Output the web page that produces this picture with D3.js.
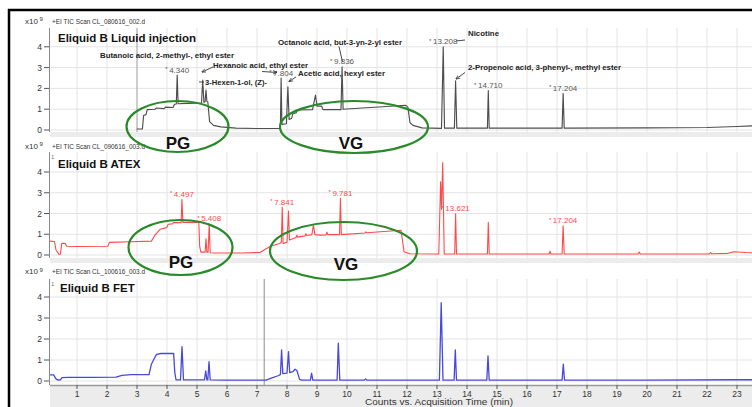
<!DOCTYPE html>
<html><head><meta charset="utf-8">
<script src="https://cdn.jsdelivr.net/npm/d3@7"></script>
<style>
body{margin:0;background:#fff}
svg{display:block}
text{font-family:"Liberation Sans",Arial,sans-serif}
</style>
</head><body>
<svg id="c" width="752" height="407"></svg>
<script>
// ---------------- DATA ----------------
const timeTicks = [1,2,3,4,5,6,7,8,9,10,11,12,13,14,15,16,17,18,19,20,21,22,23];
const countTicks = [0,1,2,3,4];
const panelTitles = ["Eliquid B Liquid injection","Eliquid B ATEX","Eliquid B FET"];
const scanNames = ["+EI TIC Scan CL_080616_002.d","+EI TIC Scan CL_090616_003.d","+EI TIC Scan CL_100616_003.d"];
const xAxisTitle = "Counts vs. Acquisition Time (min)";
const yExponent = "9";

// [time (min), counts (x10^9)]
const liquidTrace = [
 [2.99,0.05],[3.18,0.05],[3.22,0.7],[3.3,0.74],[3.34,0.98],[3.6,1.0],[3.65,1.06],[3.9,1.03],[3.95,1.1],[4.2,1.08],
 [4.25,1.24],[4.31,1.25],[4.34,2.64],[4.37,1.26],[4.7,1.28],[5.15,1.3],[5.19,2.4],[5.23,1.33],[5.27,1.36],[5.3,1.92],
 [5.33,1.37],[5.36,1.36],[5.42,0.4],[5.55,0.22],[5.8,0.15],[6.3,0.09],[7.0,0.07],[7.75,0.07],[7.78,0.2],[7.804,2.5],
 [7.83,0.27],[7.98,0.3],[8.03,2.08],[8.07,0.51],[8.15,0.55],[8.2,0.8],[8.3,0.82],[8.35,0.96],[8.85,0.98],[8.95,1.68],
 [9.0,1.15],[9.15,1.15],[9.2,0.98],[9.8,0.98],[9.836,3.04],[9.87,1.0],[10.5,1.06],[11.2,1.12],[11.95,1.19],[12.03,1.1],
 [12.1,0.35],[12.2,0.22],[12.5,0.1],[13.15,0.08],[13.208,4.0],[13.25,0.09],[13.58,0.09],[13.62,2.36],[13.66,0.09],
 [14.68,0.09],[14.71,1.89],[14.74,0.09],[17.17,0.09],[17.204,1.76],[17.24,0.09],[20.0,0.1],[22.0,0.12],[23.0,0.17],[23.6,0.2]
];
const atexTrace = [
 [0.1,0.67],[0.25,0.65],[0.3,0.24],[0.4,0.03],[0.45,0.05],[0.49,0.56],[0.6,0.56],[0.66,0.42],[1.0,0.41],[2.03,0.42],
 [2.08,0.61],[2.8,0.64],[3.48,0.67],[3.6,0.96],[3.77,1.24],[3.99,1.32],[4.04,1.48],[4.18,1.5],[4.22,1.56],[4.47,1.56],
 [4.497,2.68],[4.53,1.57],[5.06,1.58],[5.09,0.4],[5.13,0.14],[5.27,0.14],[5.3,0.78],[5.33,0.14],[5.37,0.14],[5.408,1.5],
 [5.44,0.11],[5.6,0.1],[6.5,0.1],[7.1,0.12],[7.25,0.25],[7.45,0.42],[7.75,0.55],[7.81,0.6],[7.841,2.3],[7.87,0.55],
 [8.0,0.62],[8.05,2.12],[8.08,0.72],[8.3,0.84],[8.33,0.95],[8.36,0.86],[8.6,0.92],[8.63,1.02],[8.66,0.94],[8.83,0.98],
 [8.88,1.45],[8.93,0.98],[9.1,0.96],[9.3,0.97],[9.33,1.1],[9.36,0.98],[9.75,0.98],[9.781,2.73],[9.81,0.98],[10.6,1.06],
 [10.63,1.12],[10.66,1.07],[11.8,1.19],[11.85,0.7],[11.9,0.16],[12.1,0.06],[13.06,0.05],[13.12,3.53],[13.15,2.2],[13.19,4.45],
 [13.24,0.05],[13.59,0.05],[13.621,2.0],[13.65,0.05],[14.68,0.05],[14.71,1.57],[14.74,0.05],[16.74,0.05],[16.77,0.19],[16.8,0.05],
 [17.17,0.05],[17.204,1.41],[17.24,0.05],[19.7,0.05],[19.74,0.14],[19.78,0.05],[22.08,0.05],[22.12,0.12],[22.16,0.06],[22.7,0.08],
 [22.9,0.16],[23.3,0.12],[23.6,0.1]
];
const fetTrace = [
 [0.1,0.29],[0.22,0.29],[0.3,0.1],[0.37,0.04],[0.45,0.06],[0.5,0.16],[0.7,0.17],[1.5,0.17],[2.3,0.18],[2.5,0.27],
 [2.8,0.3],[3.4,0.3],[3.48,0.8],[3.55,1.0],[3.65,1.27],[3.8,1.31],[4.22,1.32],[4.26,0.4],[4.3,0.06],[4.45,0.05],
 [4.5,1.63],[4.55,0.05],[5.25,0.05],[5.29,0.48],[5.33,0.05],[5.36,0.05],[5.4,0.92],[5.44,0.05],[6.0,0.04],[7.3,0.04],
 [7.5,0.15],[7.7,0.25],[7.78,0.3],[7.82,1.48],[7.86,0.35],[8.0,0.38],[8.05,1.4],[8.09,0.4],[8.2,0.45],[8.27,0.56],
 [8.33,0.5],[8.42,0.08],[8.5,0.04],[8.78,0.04],[8.82,0.37],[8.86,0.04],[9.67,0.04],[9.71,1.8],[9.76,0.04],[10.58,0.04],
 [10.62,0.1],[10.66,0.04],[13.08,0.04],[13.14,3.73],[13.2,0.04],[13.57,0.04],[13.61,1.48],[13.65,0.04],[14.66,0.04],[14.7,1.19],
 [14.74,0.04],[17.17,0.04],[17.21,0.8],[17.25,0.04],[20.0,0.04],[23.0,0.06],[23.6,0.06]
];

const liquidPeakLabels = [4.340, 7.804, 9.836, 13.208, 14.710, 17.204];
const atexPeakLabels = [4.497, 5.408, 7.841, 9.781, 13.621, 17.204];
const liquidCompounds = [
 "Butanoic acid, 2-methyl-, ethyl ester",
 "Hexanoic acid, ethyl ester",
 "3-Hexen-1-ol, (Z)-",
 "Acetic acid, hexyl ester",
 "Octanoic acid, but-3-yn-2-yl ester",
 "Nicotine",
 "2-Propenoic acid, 3-phenyl-, methyl ester"
];
const regionLabels = ["PG","VG","PG","VG"];
const cursorTimes = [3.0, null, 7.24];

// ---------------- LAYOUT ----------------
const W = 752, H = 407;
const svg = d3.select("#c");
const x = d3.scaleLinear().domain([0, 23.5]).range([47, 752]);
const plotLeft = 50;

const panels = [
 {top:28, bottom:132, zero:130, unit:20.8, head:23.5, band:5, trace:liquidTrace, color:"#4e4e4e", width:1.15},
 {top:152, bottom:258, zero:255, unit:20.75, head:148.5, band:5, trace:atexTrace, color:"#ff4a4a", width:1.1},
 {top:279, bottom:385, zero:381, unit:21, head:274, band:0, trace:fetTrace, color:"#4848da", width:1.3}
];
const titleLayout = [{x:58,y:42},{x:58,y:167.5},{x:60,y:292}];

svg.append("rect").attr("x",0).attr("y",0).attr("width",W).attr("height",H).attr("fill","#fff");

const defs = svg.append("defs");
defs.append("marker").attr("id","ah").attr("viewBox","0 0 10 10").attr("refX",9).attr("refY",5)
 .attr("markerWidth",5).attr("markerHeight",5).attr("orient","auto")
 .append("path").attr("d","M0,1 L10,5 L0,9").attr("fill","none").attr("stroke","#333").attr("stroke-width",1.6);

panels.forEach((p,i) => {
  p.y = d3.scaleLinear().domain([0,4]).range([p.zero, p.zero - 4*p.unit]);
  const g = svg.append("g");
  g.append("rect").attr("x",plotLeft).attr("y",p.top).attr("width",W-plotLeft).attr("height",p.bottom-p.top).attr("fill","#fff");
  if (p.band) g.append("rect").attr("x",plotLeft).attr("y",p.bottom).attr("width",W-plotLeft).attr("height",p.band).attr("fill","#ececec");
  g.selectAll(".vg").data(timeTicks).join("line")
   .attr("x1",d=>x(d)).attr("x2",d=>x(d)).attr("y1",p.top).attr("y2",p.bottom)
   .attr("stroke","#e3e3e3").attr("stroke-width",1);
  g.selectAll(".hg").data(countTicks).join("line")
   .attr("x1",plotLeft).attr("x2",W).attr("y1",d=>p.y(d)).attr("y2",d=>p.y(d))
   .attr("stroke","#e3e3e3").attr("stroke-width",1);
  g.append("line").attr("x1",49.5).attr("x2",49.5).attr("y1",p.top).attr("y2",p.bottom).attr("stroke","#8a8a8a");
  g.selectAll(".yt").data(countTicks).join("line")
   .attr("x1",44).attr("x2",49).attr("y1",d=>p.y(d)).attr("y2",d=>p.y(d)).attr("stroke","#555");
  g.selectAll(".yl").data(countTicks).join("text")
   .attr("x",42).attr("y",d=>p.y(d)+3).attr("text-anchor","end").attr("font-size",8.5).attr("fill","#333").text(d=>d);
  const hx = g.append("text").attr("x",25).attr("y",p.head).attr("font-size",8).attr("fill","#333");
  hx.append("tspan").text("x10");
  hx.append("tspan").attr("dx",1.5).attr("dy",-2.5).attr("font-size",6).text(yExponent);
  g.append("text").attr("x",52).attr("y",p.head).attr("font-size",8).attr("fill","#333")
   .attr("textLength",93).attr("lengthAdjust","spacingAndGlyphs").text(scanNames[i]);
  if (i>0) g.append("text").attr("x",51).attr("y",p.top+7).attr("font-size",6).attr("fill","#777").text("1");
  if (cursorTimes[i] != null) g.append("line").attr("x1",x(cursorTimes[i])).attr("x2",x(cursorTimes[i]))
   .attr("y1",p.top).attr("y2",p.bottom).attr("stroke",i===0?"#a8a8a8":"#8c8c8c").attr("stroke-width",1);
  defs.append("clipPath").attr("id","cp"+i).append("rect").attr("x",plotLeft).attr("y",p.top).attr("width",W-plotLeft).attr("height",p.bottom-p.top);
  const line = d3.line().x(d=>x(d[0])).y(d=>p.y(d[1]));
  g.append("path").datum(p.trace).attr("clip-path","url(#cp"+i+")").attr("d",line)
   .attr("fill","none").attr("stroke",p.color).attr("stroke-width",p.width).attr("stroke-linejoin","round");
  g.append("text").attr("x",titleLayout[i].x).attr("y",titleLayout[i].y).attr("font-size",11.5).attr("font-weight","bold")
   .attr("fill","#111").text(panelTitles[i]);
});

const pb = panels[2];
svg.append("rect").attr("x",plotLeft).attr("y",pb.bottom).attr("width",W-plotLeft).attr("height",H-pb.bottom).attr("fill","#ececec");
svg.append("line").attr("x1",plotLeft).attr("x2",W).attr("y1",pb.bottom+0.5).attr("y2",pb.bottom+0.5).attr("stroke","#9a9a9a").attr("stroke-width",1.5);
svg.selectAll(".xt").data(timeTicks).join("line")
 .attr("x1",d=>x(d)).attr("x2",d=>x(d)).attr("y1",pb.bottom).attr("y2",pb.bottom+4).attr("stroke","#555");
svg.selectAll(".xl").data(timeTicks).join("text")
 .attr("x",d=>x(d)).attr("y",396.5).attr("text-anchor","middle").attr("font-size",8.5).attr("fill","#333").text(d=>d);
svg.append("text").attr("x",365).attr("y",405).attr("font-size",8.5).attr("fill","#333")
 .attr("textLength",148).attr("lengthAdjust","spacingAndGlyphs").text(xAxisTitle);

function peakLabels(labels, p, color) {
  labels.forEach(rt => {
    const pt = p.trace.reduce((a,b)=> Math.abs(b[0]-rt) < Math.abs(a[0]-rt) ? b : a);
    const t = svg.append("text").attr("x",x(rt)).attr("y",p.y(pt[1])-2.5).attr("text-anchor","middle")
      .attr("font-size",8).attr("fill",color);
    t.append("tspan").attr("font-size",6).attr("dy",-1.5).text("*");
    t.append("tspan").attr("dy",1.5).text("\u2009" + d3.format(".3f")(rt));
  });
}
peakLabels(liquidPeakLabels, panels[0], "#555");
peakLabels(atexPeakLabels, panels[1], "#ff4a4a");

const compoundLayout = [
 {x:100,y:58,w:134},{x:213,y:68,w:95},{x:205,y:85,w:62},{x:298,y:75.5,w:87},
 {x:278,y:44.5,w:124},{x:468,y:36,w:31},{x:468,y:69.5,w:153}
];
liquidCompounds.forEach((s,i)=>{
  const L = compoundLayout[i];
  svg.append("text").attr("x",L.x).attr("y",L.y).attr("font-size",8).attr("font-weight","bold").attr("fill","#222")
   .attr("textLength",L.w).attr("lengthAdjust","spacingAndGlyphs").text(s);
});
const pointerLayout = [
 {x1:213,y1:67,x2:202,y2:72,h:1},{x1:199,y1:82,x2:204,y2:82,h:0},{x1:262,y1:71.5,x2:277,y2:72.5,h:1},
 {x1:296,y1:77,x2:289,y2:81.5,h:1},{x1:339,y1:46.5,x2:342.5,y2:62,h:0},{x1:456,y1:41,x2:465,y2:40,h:0},
 {x1:465,y1:72.5,x2:456,y2:79,h:1}
];
pointerLayout.forEach(a=>{
  const l = svg.append("line").attr("x1",a.x1).attr("y1",a.y1).attr("x2",a.x2).attr("y2",a.y2)
   .attr("stroke","#333").attr("stroke-width",0.9);
  if (a.h) l.attr("marker-end","url(#ah)");
});

const regionLayout = [
 {cx:177.5,cy:126.5,rx:51,ry:25.5,tx:178,ty:149},
 {cx:354,cy:127,rx:74,ry:26,tx:351,ty:149},
 {cx:180.5,cy:247.5,rx:52,ry:27.5,tx:181,ty:268},
 {cx:343.5,cy:251,rx:73.5,ry:29,tx:346,ty:270}
];
regionLabels.forEach((s,i)=>{
  const R = regionLayout[i];
  svg.append("ellipse").attr("cx",R.cx).attr("cy",R.cy).attr("rx",R.rx).attr("ry",R.ry)
   .attr("fill","none").attr("stroke","#2a8a2a").attr("stroke-width",2.2);
  svg.append("text").attr("x",R.tx).attr("y",R.ty).attr("text-anchor","middle").attr("font-size",17)
   .attr("font-weight","bold").attr("fill","#111").text(s);
});

svg.append("line").attr("x1",8).attr("x2",W).attr("y1",10).attr("y2",10).attr("stroke","#000").attr("stroke-width",2.5);
svg.append("line").attr("x1",9).attr("x2",9).attr("y1",9).attr("y2",H).attr("stroke","#000").attr("stroke-width",2.5);
</script>
</body></html>
